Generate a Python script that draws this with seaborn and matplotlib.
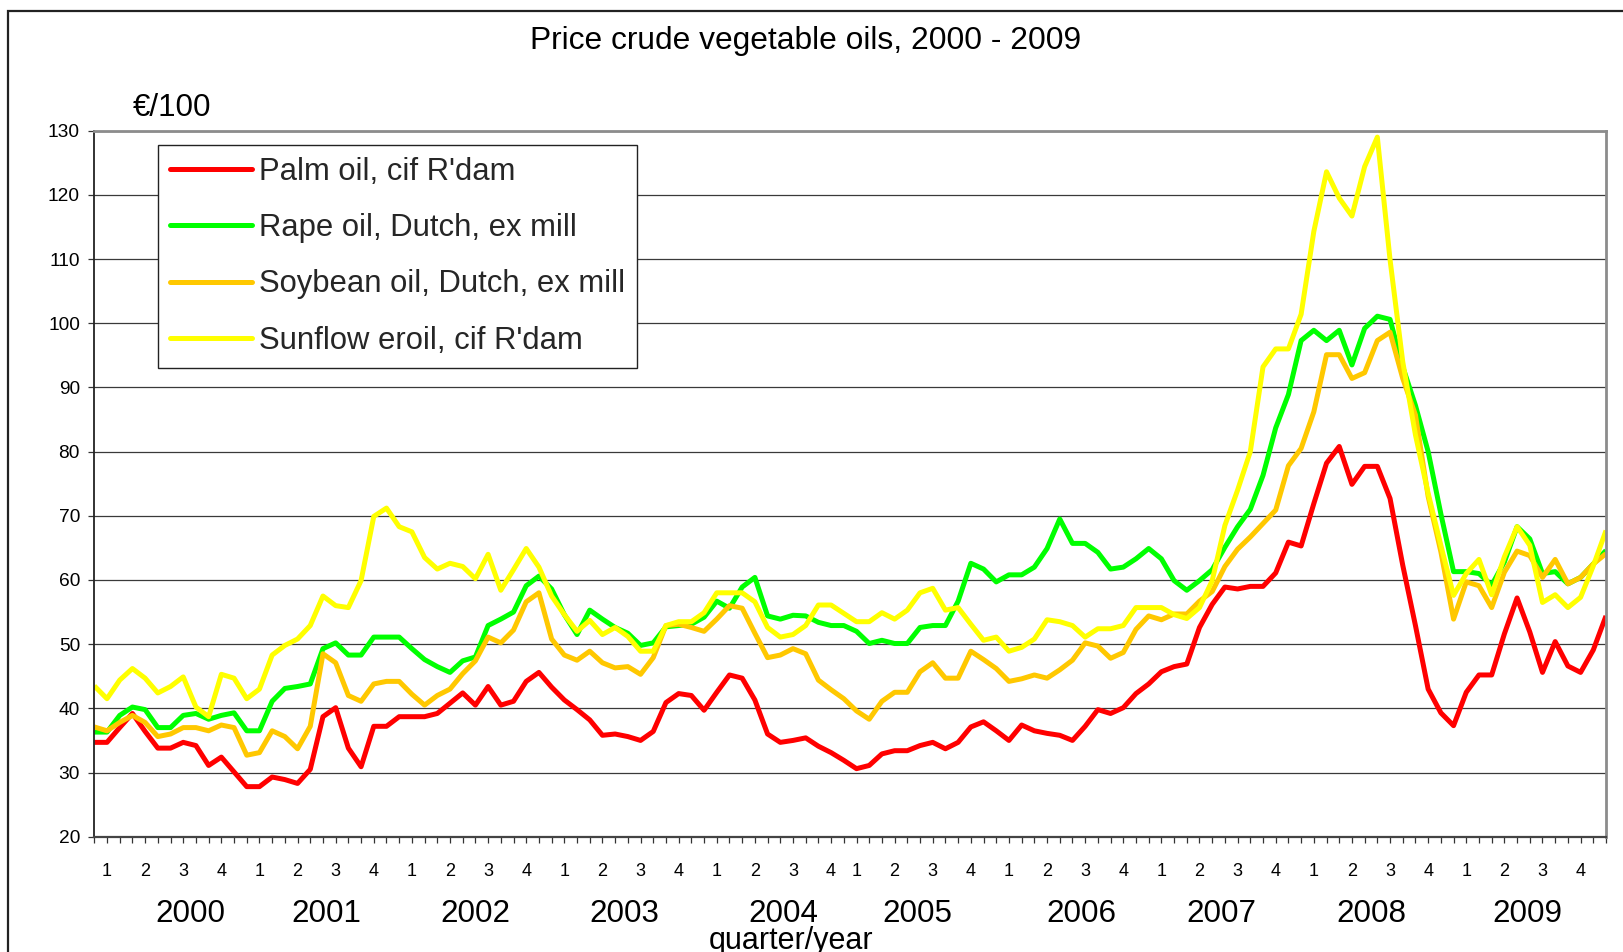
import numpy as np
import pandas as pd
import matplotlib
matplotlib.use("Agg")
import matplotlib.pyplot as plt
import seaborn as sns
from matplotlib import font_manager
from matplotlib.lines import Line2D
from matplotlib.patches import Rectangle
from matplotlib.transforms import blended_transform_factory

# ---------------- data (monthly, Jan 2000 - Dec 2009, EUR/100 kg) ----------------
TITLE = "Price crude vegetable oils, 2000 - 2009"
UNIT = "€/100"
XLABEL = "quarter/year"
SERIES = ["Palm oil, cif R'dam", "Rape oil, Dutch, ex mill",
          "Soybean oil, Dutch, ex mill", "Sunflow eroil, cif R'dam"]
COLORS = ["#FF0000", "#00FF00", "#FFC800", "#FFFF00"]
YEARS = ["2000", "2001", "2002", "2003", "2004", "2005", "2006", "2007", "2008", "2009"]
QUARTERS = ["1", "2", "3", "4"]

palm = [34.7, 34.7, 37.0, 39.2, 36.4, 33.8, 33.8, 34.7, 34.2, 31.1, 32.4, 30.1,
        27.8, 27.8, 29.3, 28.9, 28.3, 30.5, 38.7, 40.1, 33.8, 30.9, 37.2, 37.2,
        38.7, 38.7, 38.7, 39.2, 40.8, 42.4, 40.5, 43.4, 40.5, 41.1, 44.2, 45.6,
        43.3, 41.3, 39.8, 38.2, 35.8, 36.0, 35.6, 35.0, 36.4, 40.9, 42.3, 42.0,
        39.7, 42.5, 45.2, 44.7, 41.3, 36.0, 34.7, 35.0, 35.4, 34.1, 33.1, 31.9,
        30.6, 31.1, 32.9, 33.4, 33.4, 34.2, 34.7, 33.7, 34.7, 37.1, 37.9, 36.5,
        35.0, 37.4, 36.5, 36.1, 35.8, 35.0, 37.2, 39.8, 39.2, 40.1, 42.3, 43.8,
        45.7, 46.5, 46.9, 52.6, 56.2, 58.9, 58.6, 59.0, 59.0, 61.1, 65.9, 65.3,
        71.9, 78.2, 80.8, 74.9, 77.7, 77.7, 72.7, 62.3, 52.9, 43.0, 39.3, 37.3,
        42.5, 45.2, 45.2, 51.6, 57.2, 51.9, 45.6, 50.4, 46.6, 45.6, 49.1, 54.4]

rape = [36.3, 36.3, 38.9, 40.2, 39.8, 37.0, 37.0, 38.9, 39.2, 38.3, 38.9, 39.3,
        36.5, 36.5, 41.1, 43.1, 43.4, 43.8, 49.3, 50.2, 48.3, 48.3, 51.1, 51.1,
        51.1, 49.3, 47.6, 46.5, 45.6, 47.4, 48.0, 52.9, 53.9, 55.0, 59.1, 60.6,
        58.6, 54.6, 51.5, 55.3, 53.9, 52.6, 51.7, 49.8, 50.2, 52.7, 52.9, 53.1,
        54.2, 56.7, 55.6, 58.9, 60.4, 54.4, 53.9, 54.5, 54.4, 53.4, 52.9, 52.9,
        52.0, 50.1, 50.6, 50.1, 50.1, 52.6, 52.9, 52.9, 56.7, 62.6, 61.7, 59.7,
        60.8, 60.8, 62.0, 64.9, 69.5, 65.7, 65.7, 64.3, 61.7, 62.0, 63.3, 64.9,
        63.3, 59.9, 58.4, 59.9, 61.6, 65.1, 68.3, 71.0, 76.3, 83.7, 88.9, 97.3,
        98.9, 97.3, 98.9, 93.5, 99.2, 101.1, 100.6, 93.2, 87.2, 80.0, 70.3, 61.3,
        61.3, 61.0, 59.2, 62.8, 68.3, 66.4, 61.0, 61.3, 59.4, 60.4, 62.5, 64.6]

soy = [37.1, 36.5, 37.8, 38.9, 37.8, 35.6, 36.0, 37.0, 37.0, 36.5, 37.4, 37.0,
       32.7, 33.1, 36.5, 35.6, 33.7, 37.2, 48.5, 47.1, 42.0, 41.1, 43.8, 44.2,
       44.2, 42.2, 40.5, 42.0, 43.0, 45.4, 47.4, 51.1, 50.2, 52.2, 56.6, 58.0,
       50.8, 48.3, 47.5, 48.9, 47.1, 46.3, 46.5, 45.3, 47.9, 52.9, 53.1, 52.6,
       52.0, 53.9, 56.0, 55.6, 51.7, 47.9, 48.3, 49.3, 48.5, 44.4, 42.9, 41.5,
       39.6, 38.3, 41.1, 42.5, 42.5, 45.7, 47.1, 44.7, 44.7, 48.9, 47.6, 46.2,
       44.2, 44.6, 45.2, 44.7, 46.0, 47.5, 50.2, 49.7, 47.8, 48.7, 52.3, 54.4,
       53.8, 54.7, 54.7, 56.7, 58.2, 62.1, 64.8, 66.7, 68.8, 70.9, 77.8, 80.5,
       86.2, 95.1, 95.1, 91.4, 92.3, 97.3, 98.6, 91.4, 85.7, 73.0, 64.4, 53.9,
       59.7, 59.1, 55.7, 61.2, 64.5, 63.8, 60.4, 63.2, 59.4, 60.4, 62.5, 64.1]

sunflower = [43.5, 41.5, 44.4, 46.2, 44.7, 42.4, 43.4, 44.9, 40.2, 38.7, 45.3, 44.7,
             41.5, 43.0, 48.3, 49.8, 50.8, 52.9, 57.5, 56.0, 55.7, 59.9, 69.9, 71.2,
             68.3, 67.5, 63.5, 61.7, 62.6, 62.1, 60.2, 64.0, 58.4, 61.6, 64.9, 62.0,
             57.5, 54.6, 52.0, 53.7, 51.5, 52.6, 51.2, 48.9, 48.9, 52.9, 53.5, 53.5,
             54.9, 58.0, 58.0, 58.0, 56.6, 52.6, 51.1, 51.5, 52.9, 56.1, 56.1, 54.8,
             53.5, 53.5, 54.9, 53.9, 55.3, 58.0, 58.7, 55.3, 55.7, 53.1, 50.6, 51.1,
             48.9, 49.5, 50.8, 53.8, 53.5, 52.9, 51.1, 52.4, 52.4, 52.9, 55.7, 55.7,
             55.7, 54.6, 54.0, 55.7, 59.9, 68.5, 74.0, 80.0, 93.2, 96.0, 96.0, 101.4,
             114.3, 123.6, 119.5, 116.7, 124.4, 129.0, 109.9, 94.0, 82.6, 73.5, 65.4, 57.6,
             61.0, 63.2, 57.7, 63.6, 68.3, 65.4, 56.5, 57.7, 55.7, 57.3, 62.2, 67.7]

# ---------------- long table for seaborn ----------------
months = np.arange(len(palm))
df = pd.concat([
    pd.DataFrame({"month": months, "price": vals, "series": name})
    for name, vals in zip(SERIES, [palm, rape, soy, sunflower])
], ignore_index=True)

# ---------------- style / fonts ----------------
sns.set_theme(style="white")
names = {f.name for f in font_manager.fontManager.ttflist}
MAIN = "Liberation Sans" if "Liberation Sans" in names else "DejaVu Sans"
NARROW = "Liberation Sans Narrow" if "Liberation Sans Narrow" in names else MAIN
plt.rcParams["font.family"] = [MAIN, "DejaVu Sans"]

BIG = 22.6
W_PX, H_PX = 1623, 952
fig = plt.figure(figsize=(W_PX / 100, H_PX / 100), dpi=100)
fig.patch.set_facecolor("white")

ax_l, ax_r, ax_t, ax_b = 94.3, 1606.0, 130.7, 836.7
ax = fig.add_axes([ax_l / W_PX, 1 - ax_b / H_PX, (ax_r - ax_l) / W_PX, (ax_b - ax_t) / H_PX])
ax.set_facecolor("white")

sns.lineplot(data=df, x="month", y="price", hue="series", hue_order=SERIES,
             palette=COLORS, linewidth=3.6, estimator=None, sort=False,
             legend=False, ax=ax)
for ln in ax.lines:
    ln.set_solid_joinstyle("round")
    ln.set_solid_capstyle("butt")

ax.set_xlim(0, len(palm) - 1)
ax.set_ylim(20, 130)
ax.set_yticks(np.arange(20, 131, 10))
ax.set_xticks(months)
ax.set_xticklabels([])
ax.set_xlabel("")
ax.set_ylabel("")
ax.yaxis.grid(True, color="#3a3a3a", linewidth=0.9)
ax.xaxis.grid(False)
ax.set_axisbelow(True)

for side in ["top", "right"]:
    ax.spines[side].set_color("#8c8c8c")
    ax.spines[side].set_linewidth(2.0)
ax.spines["left"].set_color("#222222")
ax.spines["left"].set_linewidth(1.3)
ax.spines["bottom"].set_color("#444444")
ax.spines["bottom"].set_linewidth(1.6)

ax.tick_params(axis="x", direction="out", length=4.3, width=0.9, color="#333333",
               bottom=True, top=False)
ax.tick_params(axis="y", direction="out", length=4.0, width=0.9, color="#333333",
               left=True, labelsize=13.8, pad=6.3, labelcolor="black")
for lbl in ax.get_yticklabels():
    lbl.set_fontfamily(MAIN)

# ---------------- x-axis category labels ----------------
tr = blended_transform_factory(ax.transData, fig.transFigure)
for yi, yr in enumerate(YEARS):
    offset = 1 if yi < 5 else 0
    for qi, q in enumerate(QUARTERS):
        ax.text(12 * yi + 3 * qi + offset, 1 - 876 / H_PX, q, transform=tr,
                ha="center", va="baseline", fontsize=13, family=NARROW, color="black")

YEAR_POS = [7.6, 18.3, 30.0, 41.7, 54.2, 64.8, 77.7, 88.7, 100.5, 112.8]
for pos, yr in zip(YEAR_POS, YEARS):
    ax.text(pos, 1 - 921.7 / H_PX, yr, transform=tr, ha="center", va="baseline",
            fontsize=BIG, family=MAIN, color="black")

fig.text(791 / W_PX, 1 - 949 / H_PX, XLABEL, ha="center", va="baseline",
         fontsize=BIG - 0.6, family=MAIN, color="black")
fig.text(806 / W_PX, 1 - 49.5 / H_PX, TITLE, ha="center", va="baseline",
         fontsize=BIG + 0.3, family=MAIN, color="black")
fig.text(132.5 / W_PX, 1 - 116 / H_PX, UNIT, ha="left", va="baseline",
         fontsize=BIG, family=MAIN, color="black")

# ---------------- legend ----------------
handles = [Line2D([], [], color=c, linewidth=3.6, solid_capstyle="round") for c in COLORS]
leg = ax.legend(handles, SERIES, loc="upper left",
                bbox_to_anchor=(158.4 / W_PX, 1 - 145 / H_PX), bbox_transform=fig.transFigure,
                borderaxespad=0, frameon=True, fancybox=False, framealpha=1,
                edgecolor="#222222", prop={"family": MAIN, "size": 22.3},
                handlelength=2.65, handletextpad=0.22, labelspacing=0.85, borderpad=0.38)
leg.get_frame().set_linewidth(1.0)

# ---------------- outer chart frame ----------------
fig.patches.append(Rectangle((8 / W_PX, -0.2), 1.5, 1.2 - 10.7 / H_PX, fill=False,
                             transform=fig.transFigure, linewidth=1.6,
                             edgecolor="#222222", zorder=0))

fig.savefig("out.png", dpi=100, facecolor="white")
